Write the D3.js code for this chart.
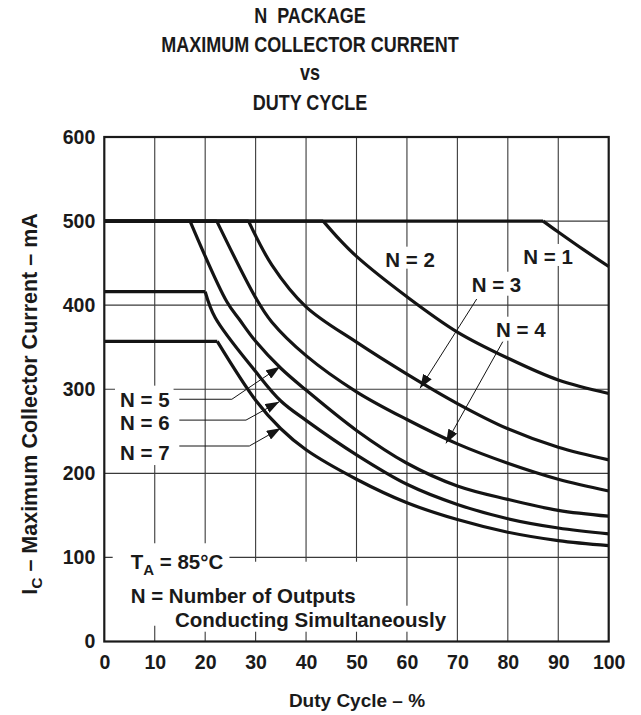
<!DOCTYPE html>
<html><head><meta charset="utf-8">
<script src="https://cdn.jsdelivr.net/npm/d3@7"></script>
<style>
body{margin:0;background:#fff}
svg{display:block}
text{font-family:"Liberation Sans",Arial,Helvetica,sans-serif;font-weight:bold;fill:#1a1a1a;white-space:pre}
</style>
</head><body><svg id="c" width="641" height="715"></svg>
<script>
// ---------- data ----------
const titleLines = ["N  PACKAGE", "MAXIMUM COLLECTOR CURRENT", "vs", "DUTY CYCLE"];
const xAxisLabel = "Duty Cycle – %";
const yAxisLabelParts = ["I", "C", " – Maximum Collector Current – mA"];
const xTicks = [0, 10, 20, 30, 40, 50, 60, 70, 80, 90, 100];
const yTicks = [0, 100, 200, 300, 400, 500, 600];

const dutyN1 = [0, 87, 90, 95, 100];
const currentN1 = [500, 500, 487, 466, 446];
const dutyN2 = [0, 43.4, 46.8, 50, 60, 70, 80, 90, 100];
const currentN2 = [500, 500, 477, 458, 410, 368, 337, 311, 295];
const dutyN3 = [0, 28.6, 33.2, 40, 50, 60, 70, 80, 90, 100];
const currentN3 = [500, 500, 448, 398, 356, 318, 283, 253, 231, 216];
const dutyN4 = [0, 22.3, 30, 33.2, 40, 50, 60, 70, 80, 90, 100];
const currentN4 = [500, 500, 409, 380, 340, 297, 264, 235, 212, 193, 179];
const dutyN5 = [0, 17, 24.3, 26.9, 30, 35, 40, 50, 60, 70, 80, 90, 100];
const currentN5 = [500, 500, 404, 382, 357, 325, 299, 251, 212, 185, 169, 156, 149];
const dutyN6 = [0, 20, 22, 30, 35, 40, 50, 60, 70, 80, 90, 100];
const currentN6 = [416, 416, 385, 321, 286, 263, 222, 187, 163, 146, 135, 128];
const dutyN7 = [0, 22.4, 30, 35, 40, 50, 60, 70, 80, 90, 100];
const currentN7 = [357, 357, 287, 253, 228, 193, 165, 145, 130, 120, 114];

const seriesDuty = [dutyN1, dutyN2, dutyN3, dutyN4, dutyN5, dutyN6, dutyN7];
const seriesCurrent = [currentN1, currentN2, currentN3, currentN4, currentN5, currentN6, currentN7];
const seriesLabels = ["N = 1", "N = 2", "N = 3", "N = 4", "N = 5", "N = 6", "N = 7"];
const noteLines = ["N = Number of Outputs", "Conducting Simultaneously"];

// ---------- layout ----------
const W = 641, H = 715;
const M = {left: 104.3, right: 32.3, top: 137, bottom: 73.5};
const svg = d3.select("#c");
const x = d3.scaleLinear().domain([0, 100]).range([M.left, W - M.right]);
const y = d3.scaleLinear().domain([0, 600]).range([H - M.bottom, M.top]);

// label anchors in data units [duty, current] + box paddings [l,r,t,b]
const labelLayout = [
  {t: seriesLabels[0], p: [83.07, 449], pad: [3, 3, 1, -2]},
  {t: seriesLabels[1], p: [55.7, 445.8], pad: [3, 3, 1, -2]},
  {t: seriesLabels[2], p: [72.84, 416], pad: [3, 3, 1, 0]},
  {t: seriesLabels[3], p: [77.66, 362.5], pad: [3, 3, 1, 0]},
  {t: seriesLabels[4], p: [3.11, 279.3], pad: [5, 4, 2, 2]},
  {t: seriesLabels[5], p: [3.11, 251.5], pad: [5, 4, 2, 4]},
  {t: seriesLabels[6], p: [3.11, 215.8], pad: [5, 4, 4, 1]},
  {t: noteLines[0], p: [5.23, 46.1], pad: [18, 5, 22, 19]},
  {t: noteLines[1], p: [14.02, 17.6], pad: [5, 5, 2, 1]}
];
const taLayout = {p: [5.23, 85.9], pad: [18, 6, 7, 2]};

// leaders in data units
const leaders = [
  [[73.83, 407.3], [62.59, 301.1]],
  [[79.0, 356.6], [67.74, 235.7]],
  [[14.87, 288.1], [25.29, 288.1], [34.83, 326.9]],
  [[14.87, 263.3], [28.09, 263.3], [34.69, 285.2]],
  [[14.87, 232.5], [28.75, 232.5], [34.97, 253.6]]
];

// ---------- title ----------
const titleBase = [22.7, 51.7, 80, 110];
const titleG = svg.append("g");
titleLines.forEach((t, i) => {
  titleG.append("text").attr("transform", `translate(310,${titleBase[i]}) scale(0.8,1)`)
    .attr("text-anchor", "middle").style("font-size", "22.5px").text(t);
});

// ---------- grid ----------
const grid = svg.append("g").attr("stroke", "#3a3a3a").attr("stroke-width", 1.1);
xTicks.slice(1, -1).forEach(v => grid.append("line")
  .attr("x1", x(v)).attr("x2", x(v)).attr("y1", y(0)).attr("y2", y(600)));
yTicks.slice(1, -1).forEach(v => grid.append("line")
  .attr("y1", y(v)).attr("y2", y(v)).attr("x1", x(0)).attr("x2", x(100)));

// ---------- annotation boxes + text ----------
const boxG = svg.append("g");
const annG = svg.append("g");
function addLabel(sel, pad) {
  const b = sel.node().getBBox();
  boxG.append("rect").attr("x", b.x - pad[0]).attr("y", b.y - pad[2])
    .attr("width", b.width + pad[0] + pad[1]).attr("height", b.height + pad[2] + pad[3])
    .attr("fill", "#fff");
}
labelLayout.forEach(l => {
  const t = annG.append("text").attr("x", x(l.p[0])).attr("y", y(l.p[1]))
    .style("font-size", "20.5px").text(l.t);
  addLabel(t, l.pad);
});
const ta = annG.append("text").attr("x", x(taLayout.p[0])).attr("y", y(taLayout.p[1]))
  .style("font-size", "20.5px");
ta.append("tspan").text("T");
ta.append("tspan").attr("dy", 6).style("font-size", "15px").text("A");
ta.append("tspan").attr("dy", -6).text(" = 85°C");
addLabel(ta, taLayout.pad);

// ---------- curves ----------
const curveG = svg.append("g").attr("fill", "none").attr("stroke", "#141414")
  .attr("stroke-width", 3.2).attr("stroke-linejoin", "round");
const flatLine = d3.line().x(d => x(d[0])).y(d => y(d[1]));
const smoothLine = d3.line().x(d => x(d[0])).y(d => y(d[1])).curve(d3.curveCatmullRom.alpha(0.5));
seriesDuty.forEach((ds, i) => {
  const pts = ds.map((d, j) => [d, seriesCurrent[i][j]]);
  curveG.append("path").attr("d", flatLine(pts.slice(0, 2)));
  curveG.append("path").attr("d", smoothLine(pts.slice(1)));
});

// ---------- leaders ----------
svg.append("defs").append("marker").attr("id", "arr").attr("viewBox", "0 0 14 10")
  .attr("refX", 14).attr("refY", 5).attr("markerWidth", 14).attr("markerHeight", 10)
  .attr("markerUnits", "userSpaceOnUse").attr("orient", "auto")
  .append("path").attr("d", "M0,0 L14,5 L0,10 Z").attr("fill", "#141414");
const leadG = svg.append("g").attr("fill", "none").attr("stroke", "#141414").attr("stroke-width", 1);
leaders.forEach(l => leadG.append("path").attr("d", flatLine(l)).attr("marker-end", "url(#arr)"));

// ---------- frame ----------
svg.append("rect").attr("x", x(0)).attr("y", y(600)).attr("width", x(100) - x(0))
  .attr("height", y(0) - y(600)).attr("fill", "none").attr("stroke", "#1a1a1a").attr("stroke-width", 2.2);

// ---------- axes ----------
const xAxis = svg.append("g").attr("transform", `translate(0,${y(0)})`)
  .call(d3.axisBottom(x).tickValues(xTicks).tickSize(0).tickPadding(14));
const yAxis = svg.append("g").attr("transform", `translate(${x(0)},0)`)
  .call(d3.axisLeft(y).tickValues(yTicks).tickSize(0).tickPadding(9));
[xAxis, yAxis].forEach(a => {
  a.select(".domain").remove();
  a.selectAll("text").attr("fill", "#1a1a1a").style("font-size", "19.5px")
    .style("font-family", '"Liberation Sans",Arial,sans-serif').style("font-weight", "bold");
});

// axis titles
svg.append("text").attr("x", 357).attr("y", 707).attr("text-anchor", "middle")
  .style("font-size", "19px").text(xAxisLabel);
const yl = svg.append("text").attr("transform", "translate(37,404) rotate(-90)")
  .attr("text-anchor", "middle").style("font-size", "21.5px");
yl.append("tspan").text(yAxisLabelParts[0]);
yl.append("tspan").attr("dy", 5).style("font-size", "15.5px").text(yAxisLabelParts[1]);
yl.append("tspan").attr("dy", -5).text(yAxisLabelParts[2]);
</script>
</body></html>
